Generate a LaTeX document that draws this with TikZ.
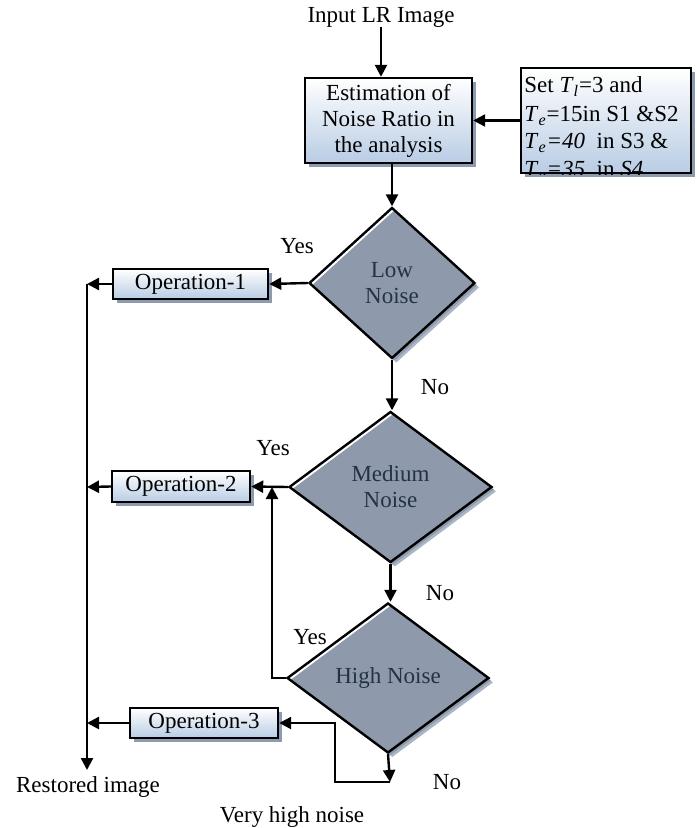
\documentclass[tikz,border=0pt]{standalone}
\usepackage{fontspec}
\setmainfont{Liberation Serif}
\usetikzlibrary{shapes.geometric,shadows,arrows.meta}
\definecolor{dfill}{HTML}{8E9AAB}
\definecolor{dshad}{HTML}{AAB5C5}
\definecolor{bshad}{HTML}{8C9BB0}
\definecolor{bbot}{HTML}{B8CCE4}
\definecolor{dtext}{HTML}{243244}
\begin{document}
\begin{tikzpicture}[x=0.5pt,y=-0.5pt,
 every node/.style={font=\fontsize{11.5}{13}\selectfont},
 box/.style={draw, line width=1.2pt, top color=white, bottom color=bbot, inner sep=0pt, align=center,
   general shadow={fill=bshad, shadow xshift=1.8pt, shadow yshift=-1.8pt}},
 dec/.style={diamond, draw, line width=1.2pt, inner sep=0pt, align=center, text=dtext,
   general shadow={fill=dshad, shadow xshift=2.2pt, shadow yshift=-2.2pt},
   general shadow={fill=dfill, shadow xshift=1.2pt, shadow yshift=-1.2pt}},
 arr/.style={line width=1.2pt, -{Triangle[length=6pt,width=6pt]}},
 lab/.style={inner sep=0pt}]
\useasboundingbox (0,0) rectangle (696,828);
% top
\node[lab] (inp) at (381,17) {Input LR Image};
\node[box, minimum width=83.5pt, minimum height=42.5pt] (est) at (388.5,120.5) {Estimation of\\Noise Ratio in\\the analysis};
\node[box, minimum width=85pt, minimum height=52.5pt] (set) at (606,120.5) {};
\begin{scope}
\clip (set.north west) rectangle (set.south east);
\node[lab, anchor=base west] (s1) at (524,93) {Set \textit{T}\textsubscript{\textit{l}}=3 and};
\node[lab, anchor=base west] (s2) at (524,122) {\textit{T}\textsubscript{\textit{e}}=15in S1 \&S2};
\node[lab, anchor=base west] (s3) at (524,149) {\textit{T}\textsubscript{\textit{e}}\textit{=40}\ \ in S3 \&};
\node[lab, anchor=base west] (s4) at (524,177) {\textit{T}\textsubscript{\textit{e}}\textit{=35}\ \ in \textit{S4}};
\end{scope}
% decisions
\node[dec, minimum width=83pt, minimum height=75.5pt] (low) at (392,283) {Low\\Noise};
\node[dec, minimum width=101.5pt, minimum height=75.5pt] (med) at (390.5,487) {Medium\\Noise};
\node[dec, minimum width=101pt, minimum height=75pt] (high) at (388,678) {High Noise};
% operations
\node[box, minimum width=77.5pt, minimum height=15pt] (op1) at (190.5,284) {Operation-1};
\node[box, minimum width=69pt, minimum height=15.5pt] (op2) at (181,486.5) {Operation-2};
\node[box, minimum width=74pt, minimum height=15pt] (op3) at (204,723) {Operation-3};
% labels
\node[lab] (y1) at (297,246) {Yes};
\node[lab] (n1) at (435,387) {No};
\node[lab] (y2) at (273,448) {Yes};
\node[lab] (n2) at (440,593) {No};
\node[lab] (y3) at (310,637) {Yes};
\node[lab] (n3) at (447,782) {No};
\node[lab] (vh) at (292,817) {Very high noise};
\node[lab] (rest) at (88,787) {Restored image};
% coordinates
\coordinate (t1) at (87,284);
\coordinate (t2) at (87,487);
\coordinate (t3) at (87,723);
\coordinate (tend) at (87,770);
\coordinate (j2) at (272,487);
\coordinate (hb) at (390,782);
\coordinate (hbl) at (335,782);
% connectors
\draw[arr] (inp.south) -- (inp.south |- est.north);
\draw[arr] (set.west) -- (est.east);
\draw[arr] (est.south -| low.north) -- (low.north);
\draw[arr] (low.west) -- (op1.east);
\draw[arr] (op1.west) -- (t1);
\draw[arr] (low.south) -- (low.south |- med.north);
\draw[arr] (med.west) -- (op2.east);
\draw[arr] (op2.west) -- (t2);
\draw[arr] (med.south) -- (med.south |- high.north);
\draw[arr] (high.west) -| (j2);
\draw[arr] (high.south) -- (hb);
\draw[arr] (hb) -- (hbl) |- (op3.east);
\draw[arr] (op3.west) -- (t3);
\draw[arr] (t1) -- (tend);
\end{tikzpicture}
\end{document}
